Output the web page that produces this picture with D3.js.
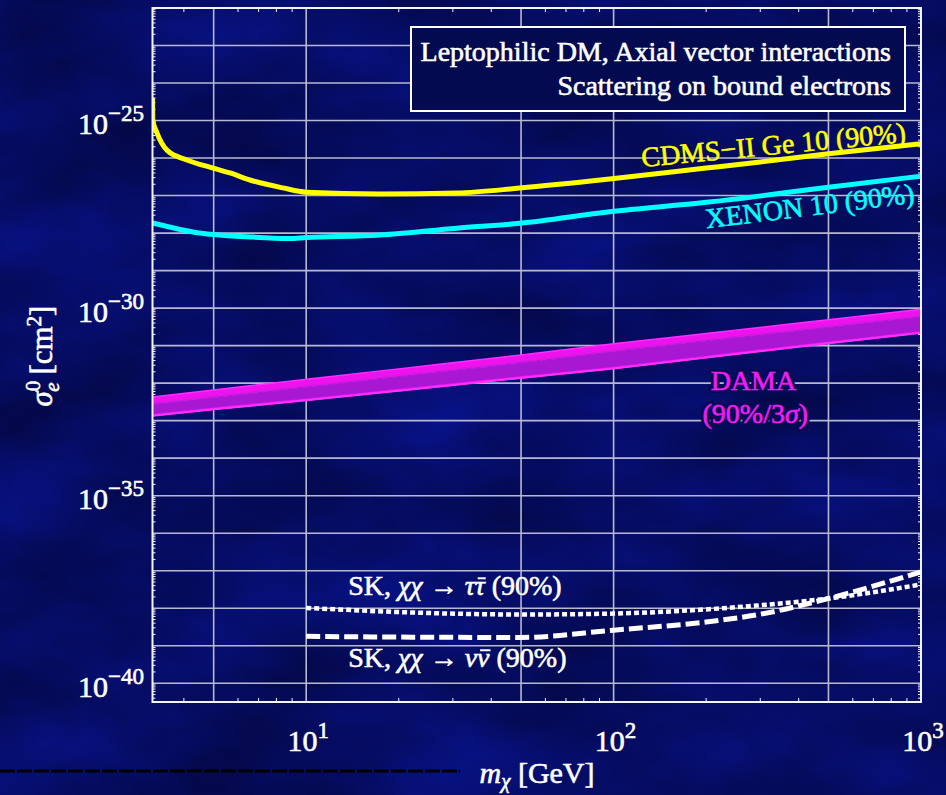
<!DOCTYPE html>
<html lang="en">
<head>
<meta charset="utf-8">
<title>Leptophilic DM, Axial vector interactions</title>
<style>
  body { margin: 0; background: #050c5e; }
  svg { display: block; }
  text { font-family: "Liberation Serif", "Times New Roman", serif; fill: #fff; stroke: #fff; stroke-width: 0.6px; }
  .grid line { stroke: #b8b8d0; stroke-width: 1.6px; }
  .frame { fill: none; stroke: #f4f4ff; stroke-width: 2px; }
  .minor line { stroke: #f4f4ff; stroke-width: 1px; }
  .curve { fill: none; }
</style>
</head>
<body>
<script src="https://cdn.jsdelivr.net/npm/d3@7"></script>
<script>
// ---- values (mass in GeV, cross section in cm^2) ----
var cdmsMass  = [3.162, 3.17, 3.27, 3.53, 4.09, 4.98, 5.65, 6.56, 8.4, 10, 17.4, 30.9, 49.5, 97, 200, 300, 500, 1000];
var cdmsSigma = [4.0e-25, 1.0e-25, 4.7e-26, 1.6e-26, 8.9e-27, 5.4e-27, 4.0e-27, 2.6e-27, 1.6e-27, 1.23e-27, 1.1e-27, 1.17e-27, 1.58e-27, 2.75e-27, 5.4e-27, 7.9e-27, 1.3e-26, 2.4e-26];

var xenonMass  = [3.162, 4.5, 6.56, 8.8, 10, 17.4, 30.9, 49.5, 97, 200, 500, 1000];
var xenonSigma = [1.86e-28, 1.0e-28, 7.9e-29, 7.2e-29, 7.6e-29, 8.9e-29, 1.35e-28, 1.82e-28, 3.7e-28, 6.6e-28, 1.66e-27, 3.3e-27];

var damaMass = [3.162, 5, 10, 20, 50, 100, 200, 500, 1000];
var damaHi3s = [4.3e-33, 6.6e-33, 1.26e-32, 2.4e-32, 5.6e-32, 1.12e-31, 2.1e-31, 4.9e-31, 9.3e-31];
var damaLo3s = [1.35e-33, 2.0e-33, 3.5e-33, 6.3e-33, 1.38e-32, 2.45e-32, 4.8e-32, 1.15e-31, 2.2e-31];
var damaHi90 = [2.8e-33, 4.3e-33, 8.1e-33, 1.55e-32, 3.6e-32, 7.2e-32, 1.38e-31, 3.2e-31, 6.1e-31];
var damaLo90 = [1.5e-33, 2.25e-33, 3.9e-33, 7.1e-33, 1.55e-32, 2.75e-32, 5.4e-32, 1.29e-31, 2.45e-31];

var skMass     = [10, 20, 50, 100, 200, 300, 500, 1000];
var skTauSigma = [1.02e-38, 7.9e-39, 6.8e-39, 7.2e-39, 9.3e-39, 1.2e-38, 1.82e-38, 4.3e-38];
var skNuSigma  = [1.78e-39, 1.7e-39, 1.66e-39, 2.6e-39, 4.3e-39, 6.9e-39, 1.82e-38, 9.3e-38];

var xTicks = [10, 100, 1000];
var yTicks = [1e-25, 1e-30, 1e-35, 1e-40];
var xGrid  = [5, 10, 50, 100, 500];
var yGrid  = d3.range(-40, -22).map(function(e) { return Math.pow(10, e); });

var fullwidth = 946, fullheight = 795;
var plot = { left: 152.5, right: 921, top: 8, bottom: 702 };

var x = d3.scaleLog().domain([Math.pow(10, 0.5), 1000]).range([plot.left, plot.right]);
var y = d3.scaleLog().domain([Math.pow(10, -40.5), 1e-22]).range([plot.bottom, plot.top]);

function zip(a, b) { return a.map(function(v, i) { return [v, b[i]]; }); }
function ink(sel, c) { return sel.style("fill", c).style("stroke", c); }

var svg = d3.select("body").append("svg")
  .attr("width", fullwidth)
  .attr("height", fullheight);

var defs = svg.append("defs");
var clouds = defs.append("filter").attr("id", "clouds")
  .attr("x", 0).attr("y", 0).attr("width", "100%").attr("height", "100%");
clouds.append("feTurbulence")
  .attr("type", "fractalNoise")
  .attr("baseFrequency", "0.006 0.011")
  .attr("numOctaves", 4)
  .attr("seed", 11);
clouds.append("feColorMatrix")
  .attr("type", "matrix")
  .attr("values", "0 0 0 0 0  0 0 0 0 0  0 0 0 0 0.01  0.7 0 0 0 0.0");

defs.append("clipPath").attr("id", "plotclip")
  .append("rect")
  .attr("x", plot.left).attr("y", plot.top)
  .attr("width", plot.right - plot.left).attr("height", plot.bottom - plot.top);

// background
svg.append("rect").attr("width", fullwidth).attr("height", fullheight).attr("fill", "#08138c");
svg.append("rect").attr("width", fullwidth).attr("height", fullheight).attr("filter", "url(#clouds)");

// odd dark scan line at lower left of the original
svg.append("line")
  .attr("x1", 0).attr("x2", 460).attr("y1", 771).attr("y2", 771)
  .attr("stroke", "#000").attr("stroke-width", 3).attr("stroke-dasharray", "15,2");

// grid
var grid = svg.append("g").attr("class", "grid");
grid.selectAll("line.v").data(xGrid).enter().append("line")
  .attr("class", "v")
  .attr("x1", function(d) { return x(d); }).attr("x2", function(d) { return x(d); })
  .attr("y1", plot.top).attr("y2", plot.bottom);
grid.selectAll("line.h").data(yGrid).enter().append("line")
  .attr("class", "h")
  .attr("x1", plot.left).attr("x2", plot.right)
  .attr("y1", function(d) { return y(d); }).attr("y2", function(d) { return y(d); });

// minor ticks on all four sides
var xMinor = [];
[1, 10, 100].forEach(function(dec) {
  d3.range(1, 10).forEach(function(k) {
    var v = dec * k;
    if (v > x.domain()[0] && v < 1000 && xGrid.indexOf(v) < 0) xMinor.push(v);
  });
});
var yMinor = [];
d3.range(-41, -22).forEach(function(e) {
  d3.range(2, 10).forEach(function(k) {
    var v = k * Math.pow(10, e);
    if (v > y.domain()[0] && v < y.domain()[1]) yMinor.push(v);
  });
});
var minor = svg.append("g").attr("class", "minor");
minor.selectAll("line.xb").data(xMinor).enter().append("line")
  .attr("x1", function(d) { return x(d); }).attr("x2", function(d) { return x(d); })
  .attr("y1", plot.bottom).attr("y2", plot.bottom - 4);
minor.selectAll("line.xt").data(xMinor).enter().append("line")
  .attr("x1", function(d) { return x(d); }).attr("x2", function(d) { return x(d); })
  .attr("y1", plot.top).attr("y2", plot.top + 4);
minor.selectAll("line.yl").data(yMinor).enter().append("line")
  .attr("x1", plot.left).attr("x2", plot.left + 3)
  .attr("y1", function(d) { return y(d); }).attr("y2", function(d) { return y(d); });
minor.selectAll("line.yr").data(yMinor).enter().append("line")
  .attr("x1", plot.right).attr("x2", plot.right - 3)
  .attr("y1", function(d) { return y(d); }).attr("y2", function(d) { return y(d); });

// curves
var g = svg.append("g").attr("clip-path", "url(#plotclip)");

var line = d3.line()
  .x(function(d) { return x(d[0]); })
  .y(function(d) { return y(d[1]); })
  .curve(d3.curveMonotoneX);

// DAMA bands
var damaRows = damaMass.map(function(m, i) {
  return { m: m, hi3: damaHi3s[i], lo3: damaLo3s[i], hi90: damaHi90[i], lo90: damaLo90[i] };
});
var band = function(lo, hi) {
  return d3.area()
    .x(function(d) { return x(d.m); })
    .y0(function(d) { return y(d[lo]); })
    .y1(function(d) { return y(d[hi]); })
    .curve(d3.curveMonotoneX);
};
g.append("path").datum(damaRows).attr("d", band("lo3", "hi3"))
  .attr("fill", "#ee12ee").attr("stroke", "#ff2cff").attr("stroke-width", 1.5);
g.append("path").datum(damaRows).attr("d", band("lo90", "hi90"))
  .attr("fill", "#a818d2");
g.append("path").datum(zip(damaMass, damaHi90)).attr("class", "curve").attr("d", line)
  .attr("stroke", "#c81ee0").attr("stroke-width", 2).attr("stroke-dasharray", "7,3");
g.append("path").datum(zip(damaMass, damaLo3s)).attr("class", "curve").attr("d", line)
  .attr("stroke", "#ff30ff").attr("stroke-width", 2);

g.append("path").datum(zip(cdmsMass, cdmsSigma)).attr("class", "curve").attr("d", line)
  .attr("stroke", "#ffff00").attr("stroke-width", 5);
g.append("path").datum(zip(xenonMass, xenonSigma)).attr("class", "curve").attr("d", line)
  .attr("stroke", "#00ffff").attr("stroke-width", 5);

g.append("path").datum(zip(skMass, skTauSigma)).attr("class", "curve").attr("d", line)
  .attr("stroke", "#fff").attr("stroke-width", 4.5).attr("stroke-dasharray", "5,3");
g.append("path").datum(zip(skMass, skNuSigma)).attr("class", "curve").attr("d", line)
  .attr("stroke", "#fff").attr("stroke-width", 5).attr("stroke-dasharray", "14,5");

// frame
svg.append("rect").attr("class", "frame")
  .attr("x", plot.left).attr("y", plot.top)
  .attr("width", plot.right - plot.left).attr("height", plot.bottom - plot.top);

// tick labels
function expOf(d) { return Math.round(Math.log10(d)); }
function powText(sel, d) {
  sel.append("tspan").text("10");
  sel.append("tspan").attr("dy", -13).attr("font-size", 23)
    .text(String(expOf(d)).replace("-", "\u2212"));
}
svg.selectAll("text.ylab").data(yTicks).enter().append("text")
  .attr("class", "ylab")
  .attr("x", 144)
  .attr("y", function(d) { return y(d) + 13.5; })
  .attr("text-anchor", "end")
  .attr("font-size", 30)
  .each(function(d) { powText(d3.select(this), d); });
svg.selectAll("text.xlab").data(xTicks).enter().append("text")
  .attr("class", "xlab")
  .attr("x", function(d) { return x(d) + 2; })
  .attr("y", 751)
  .attr("text-anchor", "middle")
  .attr("font-size", 30)
  .each(function(d) { powText(d3.select(this), d); });

// axis titles
var xt = svg.append("text").attr("x", 537).attr("y", 783)
  .attr("text-anchor", "middle").attr("font-size", 30);
xt.append("tspan").attr("font-style", "italic").text("m");
xt.append("tspan").attr("font-style", "italic").attr("font-size", 21).attr("dy", 5).text("\u03c7");
xt.append("tspan").attr("dy", -5).text(" [GeV]");

var yt = svg.append("text")
  .attr("transform", "translate(52,356) rotate(-90)")
  .attr("text-anchor", "middle").attr("font-size", 31);
yt.append("tspan").attr("font-style", "italic").text("\u03c3");
yt.append("tspan").attr("font-size", 21).attr("dy", -12).text("0");
yt.append("tspan").attr("font-style", "italic").attr("font-size", 21).attr("dx", -11).attr("dy", 19).text("e");
yt.append("tspan").attr("dy", -7).text(" [cm");
yt.append("tspan").attr("font-size", 21).attr("dy", -11).text("2");
yt.append("tspan").attr("dy", 11).text("]");

// legend box
var box = { x: plot.left + 258.5, y: plot.top + 19, w: 494, h: 84 };
svg.append("rect")
  .attr("x", box.x).attr("y", box.y).attr("width", box.w).attr("height", box.h)
  .attr("fill", "#040a50").attr("stroke", "#fff").attr("stroke-width", 2);
svg.append("text").attr("x", box.x + box.w - 14).attr("y", box.y + 34)
  .attr("text-anchor", "end").attr("font-size", 28)
  .text("Leptophilic DM, Axial vector interactions");
svg.append("text").attr("x", box.x + box.w - 14).attr("y", box.y + 68)
  .attr("text-anchor", "end").attr("font-size", 28)
  .text("Scattering on bound electrons");

// curve labels
function place(m, s, angle) {
  return "translate(" + x(m) + "," + y(s) + ") rotate(" + angle + ")";
}
ink(svg.append("text").attr("transform", place(124, 5.75e-27, -5.5))
  .attr("font-size", 28), "#ffff00").text("CDMS\u2212II Ge 10 (90%)");
ink(svg.append("text").attr("transform", place(201, 1.35e-28, -7))
  .attr("font-size", 28), "#00ffff").text("XENON 10 (90%)");

var damaLab = [{ t: "DAMA", m: 285, s: 6.4e-33 }, { t: "(90%/3", m: 289, s: 8.5e-34 }];
function damaText(sel) {
  sel.attr("x", function(d) { return x(d.m); })
    .attr("y", function(d) { return y(d.s); })
    .attr("text-anchor", "middle").attr("font-size", 28)
    .each(function(d, i) {
      var t = d3.select(this);
      t.append("tspan").text(d.t);
      if (i === 1) {
        t.append("tspan").attr("font-style", "italic").text("\u03c3");
        t.append("tspan").text(")");
      }
    });
}
// dark halo first, then the magenta glyphs
svg.selectAll("text.damaHalo").data(damaLab).enter().append("text")
  .style("fill", "#050b52").style("stroke", "#050b52").style("stroke-width", 6)
  .call(damaText);
svg.selectAll("text.dama").data(damaLab).enter().append("text")
  .style("fill", "#f21cf2").style("stroke", "#f21cf2")
  .call(damaText);

function skLabel(s, bar) {
  var fs = 28;
  var t = svg.append("text").attr("x", x(13.7)).attr("y", y(s)).attr("font-size", fs);
  t.append("tspan").text("SK, ");
  t.append("tspan").attr("font-style", "italic").text("\u03c7\u03c7");
  t.append("tspan").text(" \u2192 ");
  t.append("tspan").attr("font-style", "italic").text(bar + bar);
  t.append("tspan").text(" (90%)");
  var ext = t.node().getExtentOfChar(10);
  svg.append("line")
    .attr("x1", ext.x + 3).attr("x2", ext.x + ext.width + 1)
    .attr("y1", y(s) - 0.6 * fs).attr("y2", y(s) - 0.6 * fs)
    .attr("stroke", "#fff").attr("stroke-width", 2);
}
skLabel(2.24e-38, "\u03c4");
skLabel(2.7e-40, "\u03bd");
</script>
</body>
</html>
